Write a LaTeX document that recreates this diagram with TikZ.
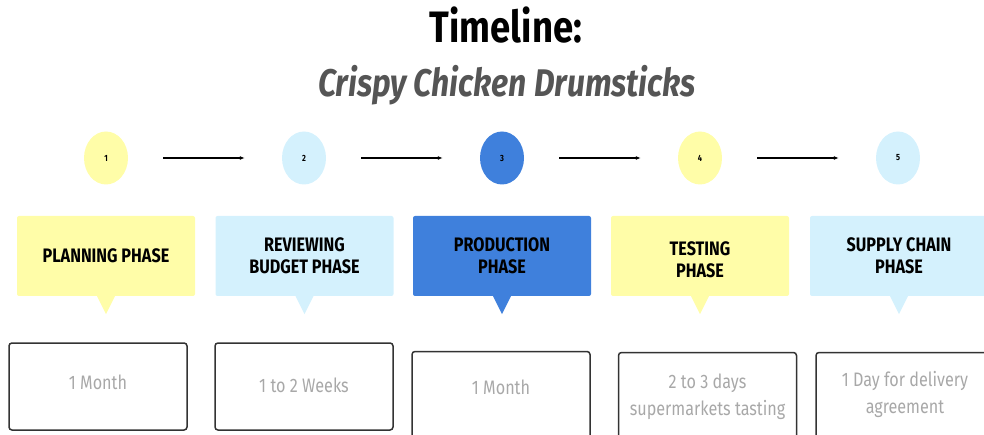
\documentclass[tikz,border=0pt]{standalone}
\usepackage{fontspec}
\setmainfont{Fira Sans}[FakeStretch=0.83]
\usetikzlibrary{arrows.meta,shapes.geometric}
\definecolor{pyellow}{HTML}{FFFDA8}
\definecolor{pcyan}{HTML}{D4F1FD}
\definecolor{pblue}{HTML}{3F80DC}
\definecolor{durgray}{HTML}{A8A8A8}
\definecolor{subgray}{HTML}{555555}
\tikzset{
	num/.style={ellipse, minimum width=44pt, minimum height=53pt, inner sep=0pt,
		font=\fontsize{9}{10}\selectfont\bfseries},
	phase/.style={rectangle, rounded corners=2pt, minimum width=178pt,
		minimum height=80pt, align=center, font=\fontsize{19.5}{22}\selectfont\bfseries},
	dur/.style={rectangle, draw=black!80, line width=1.5pt, rounded corners=3pt,
		minimum width=178pt, minimum height=87pt},
	durtext/.style={align=center, text=durgray, font=\fontsize{19.5}{27}\selectfont},
	link/.style={line width=1.3pt, -{Latex[length=5pt,width=4pt]},
		shorten <=35pt, shorten >=37pt}
}
\begin{document}
\begin{tikzpicture}[x=1pt,y=-1pt]
	\useasboundingbox (0,0) rectangle (984,435);
	\clip (0,0) rectangle (984,435);
	\node[anchor=base] (title) at (506,43) {\fontsize{44}{50}\selectfont\bfseries Timeline:};
	\node[anchor=base, text=subgray] (sub) at (507,97)
		{\fontsize{38.5}{44}\selectfont\bfseries\itshape Crispy Chicken Drumsticks};
	% numbered steps
	\foreach \i/\x/\col in {1/106/pyellow,2/304/pcyan,3/502/pblue,4/700/pyellow,5/898/pcyan}
	\node[num, fill=\col] (c\i) at (\x,158) {\i};
	\foreach \a/\b in {1/2,2/3,3/4,4/5}
	\draw[link] (c\a) -- (c\b);
	% phases
	\foreach \i/\x/\col/\ty/\txt in {1/106/pyellow/256/{PLANNING PHASE},
		2/304.5/pcyan/256/{REVIEWING\\BUDGET PHASE},
		3/502/pblue/256/{PRODUCTION\\PHASE},
		4/700/pyellow/260/{TESTING\\PHASE},
		5/899/pcyan/256/{SUPPLY CHAIN\\PHASE}}{
		\node[phase, fill=\col] (p\i) at (\x,256) {};
		\node[phase, minimum height=0pt] (q\i) at (\x,\ty) {\txt};
		\fill[\col] ([xshift=-9pt]p\i.south) -- ([xshift=9pt]p\i.south)
			-- ([yshift=-18pt]p\i.south) -- cycle;
	}
	% durations
	\foreach \i/\x/\y/\ty/\txt in {1/98/386.5/382/{1 Month},
		2/304/386.5/385/{1 to 2 Weeks},
		3/501/395/387/{1 Month},
		4/707.5/396/396.5/{2 to 3 days\\supermarkets tasting},
		5/905/396/394.5/{1 Day for delivery\\agreement}}{
		\node[dur] (d\i) at (\x,\y) {};
		\node[durtext] (t\i) at (\x,\ty) {\txt};
	}
\end{tikzpicture}
\end{document}
